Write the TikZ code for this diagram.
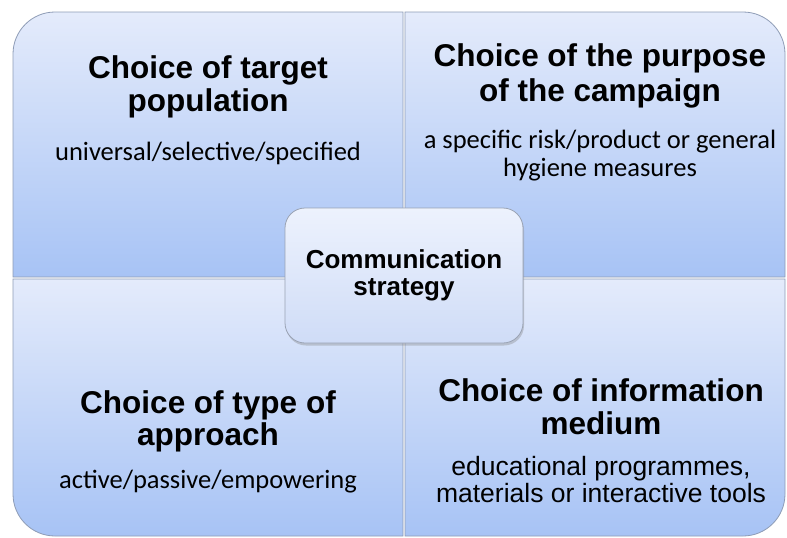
\documentclass[tikz,border=0pt]{standalone}
\usepackage{fontspec}
\setmainfont{Liberation Sans}
\newfontfamily\arialf{Liberation Sans}
\newfontfamily\calf{Carlito}
\usetikzlibrary{shadows}
\definecolor{quadtop}{HTML}{E4EBFB}
\definecolor{quadbot}{HTML}{A7C3F5}
\definecolor{quadline}{HTML}{8E9CB6}
\definecolor{coretop}{HTML}{EDF2FD}
\definecolor{corebot}{HTML}{CFDCF7}
\definecolor{coreline}{HTML}{9AA3B4}
\begin{document}
\begin{tikzpicture}[x=1pt,y=-1pt,
  quad/.style={top color=quadtop,bottom color=quadbot,draw=quadline,line width=0.8pt},
  title/.style={anchor=base,inner sep=0pt,font=\arialf\bfseries\fontsize{31.5}{33}\selectfont},
  sub/.style={anchor=base,inner sep=0pt,font=\calf\fontsize{26.5}{28}\selectfont},
  subarial/.style={anchor=base,inner sep=0pt,font=\arialf\fontsize{26.5}{28}\selectfont},
  core/.style={draw=coreline,line width=0.8pt,rounded corners=20pt,top color=coretop,bottom color=corebot,
    minimum width=238pt,minimum height=135pt,inner sep=0pt,align=center,
    font=\arialf\bfseries\fontsize{26}{27}\selectfont,
    drop shadow={opacity=0.35,shadow xshift=1pt,shadow yshift=-2.5pt}}]
\useasboundingbox (0,0) rectangle (787,538);
\fill[white] (0,0) rectangle (787,538);

% four quadrants, each with one rounded outer corner
\path[quad] (403,277) -- (13,277) -- (13,54) arc(180:270:42) -- (403,12) -- cycle;
\path[quad] (405,277) -- (405,12) -- (743,12) arc(270:360:42) -- (785,277) -- cycle;
\path[quad] (13,279) -- (403,279) -- (403,536) -- (55,536) arc(90:180:42) -- cycle;
\path[quad] (405,279) -- (785,279) -- (785,494) arc(0:90:42) -- (405,536) -- cycle;

% top left
\node[title] (tla) at (208,78) {Choice of target};
\node[title] (tlb) at (208,111) {population};
\node[sub]   (tls) at (208,160) {universal/selective/specified};

% top right
\node[title] (tra) at (600,66) {Choice of the purpose};
\node[title] (trb) at (600,101) {of the campaign};
\node[sub]   (trs) at (600,148) {a specific risk/product or general};
\node[sub]   (trt) at (600,176) {hygiene measures};

% bottom left
\node[title] (bla) at (208,413) {Choice of type of};
\node[title] (blb) at (208,445) {approach};
\node[sub]   (bls) at (208,488) {active/passive/empowering};

% bottom right
\node[title]    (bra) at (601,401) {Choice of information};
\node[title]    (brb) at (601,434) {medium};
\node[subarial] (brs) at (601,475) {educational programmes,};
\node[subarial] (brt) at (601,502) {materials or interactive tools};

% centre
\node[core] (centre) at (404,275.5) {Communication\\strategy};
\end{tikzpicture}
\end{document}
